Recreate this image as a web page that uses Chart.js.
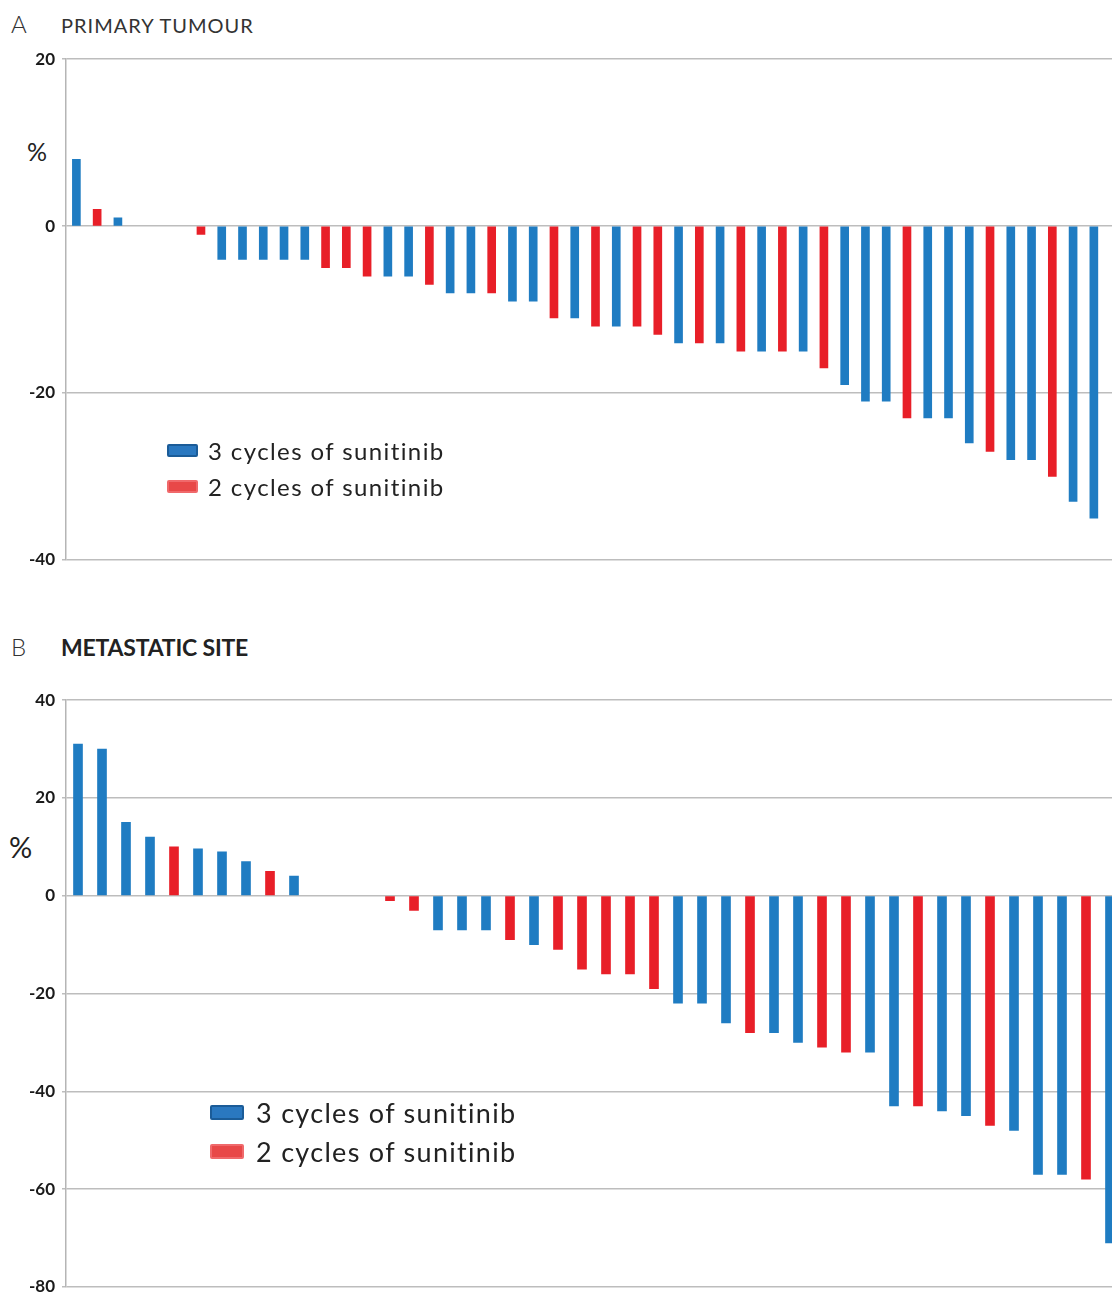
<!DOCTYPE html>
<html>
<head>
<meta charset="utf-8">
<script src="https://cdn.jsdelivr.net/npm/chart.js@4.4.1/dist/chart.umd.min.js"></script>
<style>
  html, body { margin: 0; padding: 0; background: #fff; overflow: hidden; }
  #page { position: relative; width: 1112px; height: 1296px; overflow: hidden; font-family: Lato, "Open Sans", sans-serif; color: #222; }
  canvas { position: absolute; left: 0; }
  .letter { position: absolute; left: 11px; font-size: 24px; font-weight: 300; color: #333; }
  .title { position: absolute; left: 61px; white-space: nowrap; }
  .pct { position: absolute; color: #222; }
  .legend { position: absolute; white-space: nowrap; }
  .legend .row { display: flex; align-items: center; }
  .legend .sw { display: inline-block; border-radius: 2px; box-sizing: border-box; }
</style>
</head>
<body>
<div id="page">
  <div class="letter" style="top:9px">A</div>
  <div class="title" style="top:13px;font-size:20px;color:#333;letter-spacing:1px">PRIMARY TUMOUR</div>
  <div class="pct" style="left:27px;top:136px;font-size:25px">%</div>
  <canvas id="chartA" width="1125" height="535" style="top:42px"></canvas>
  <div class="legend" id="legendA" style="left:167px;top:432px;font-size:24px;letter-spacing:1.4px"></div>

  <div class="letter" style="top:632px">B</div>
  <div class="title" style="top:633px;font-size:23px;font-weight:700;letter-spacing:-0.2px">METASTATIC SITE</div>
  <div class="pct" style="left:9px;top:829px;font-size:29px">%</div>
  <canvas id="chartB" width="1146" height="621" style="top:683px"></canvas>
  <div class="legend" id="legendB" style="left:210px;top:1093px;font-size:27px;letter-spacing:1.3px"></div>
</div>
<script>
// series names and colours
var seriesNames = ['3 cycles of sunitinib', '2 cycles of sunitinib'];
var seriesCycles = [3, 2];
var seriesColors = ['#1f7cc2', '#e81f28'];
var legendBorders = ['#1b5c98', '#f0696b'];

// A: primary tumour, % change per patient (0 = no change, no bar)
var primaryValues = [8, 2, 1, 0, 0, 0, -1, -4, -4, -4, -4, -4, -5, -5, -6, -6, -6, -7, -8, -8,
  -8, -9, -9, -11, -11, -12, -12, -12, -13, -14, -14, -14, -15, -15, -15, -15, -17, -19, -21, -21,
  -23, -23, -23, -26, -27, -28, -28, -30, -33, -35];
var primaryCycles = [3, 2, 3, 0, 0, 0, 2, 3, 3, 3, 3, 3, 2, 2, 2, 3, 3, 2, 3, 3,
  2, 3, 3, 2, 3, 2, 3, 2, 2, 3, 2, 3, 2, 3, 2, 3, 2, 3, 3, 3,
  2, 3, 3, 3, 2, 3, 3, 2, 3, 3];
var primaryTicks = { min: -40, max: 20, step: 20 };

// B: metastatic site, % change per patient
var metaValues = [31, 30, 15, 12, 10, 9.6, 9, 7, 5, 4, 0, 0, 0, -1, -3, -7, -7, -7, -9, -10,
  -11, -15, -16, -16, -19, -22, -22, -26, -28, -28, -30, -31, -32, -32, -43, -43, -44, -45, -47, -48,
  -57, -57, -58, -71];
var metaCycles = [3, 3, 3, 3, 2, 3, 3, 3, 2, 3, 0, 0, 0, 2, 2, 3, 3, 3, 2, 3,
  2, 2, 2, 2, 2, 3, 3, 3, 2, 3, 3, 2, 2, 3, 3, 2, 3, 3, 2, 3,
  3, 3, 2, 3];
var metaTicks = { min: -80, max: 40, step: 20 };

function buildDatasets(values, cycles, thickness) {
  return seriesCycles.map(function (c, k) {
    var d = values.map(function (v, i) { return cycles[i] === c ? v : null; });
    d.push(null); // the figure is cut at the right edge
    return {
      label: seriesNames[k],
      data: d,
      backgroundColor: seriesColors[k],
      borderWidth: 0,
      barThickness: thickness
    };
  });
}

function makeChart(id, values, cycles, ticks, thickness) {
  var labels = values.map(function (v, i) { return String(i + 1); });
  labels.push('');
  return new Chart(document.getElementById(id), {
    type: 'bar',
    data: { labels: labels, datasets: buildDatasets(values, cycles, thickness) },
    options: {
      responsive: false,
      animation: false,
      layout: { padding: { top: 15, bottom: 15, left: 0, right: 0 } },
      plugins: { legend: { display: false }, tooltip: { enabled: false } },
      scales: {
        x: { stacked: true, display: false },
        y: {
          stacked: true,
          min: ticks.min,
          max: ticks.max,
          afterFit: function (s) { s.width = 66; },
          ticks: {
            stepSize: ticks.step,
            padding: 7,
            color: '#1a1a1a',
            font: { family: 'Lato, "Open Sans", sans-serif', size: 17, weight: 'bold' }
          },
          grid: { color: '#bdbdbd', lineWidth: 1.5, tickLength: 4, tickColor: '#bdbdbd' },
          border: { display: true, color: '#b5b5b5', width: 1.5 }
        }
      }
    }
  });
}

function htmlLegend(el, chart, swW, swH, gap, rowH) {
  chart.data.datasets.forEach(function (ds, k) {
    var row = document.createElement('div');
    row.className = 'row';
    row.style.height = rowH + 'px';
    var sw = document.createElement('span');
    sw.className = 'sw';
    sw.style.width = swW + 'px';
    sw.style.height = swH + 'px';
    sw.style.background = k === 0 ? '#2a78c0' : '#e84848';
    sw.style.border = '2px solid ' + legendBorders[k];
    sw.style.marginRight = gap + 'px';
    var tx = document.createElement('span');
    tx.textContent = ds.label;
    row.appendChild(sw);
    row.appendChild(tx);
    el.appendChild(row);
  });
}

var chartA = makeChart('chartA', primaryValues, primaryCycles, primaryTicks, 8);
var chartB = makeChart('chartB', metaValues, metaCycles, metaTicks, 9);
htmlLegend(document.getElementById('legendA'), chartA, 31, 13, 10, 36);
htmlLegend(document.getElementById('legendB'), chartB, 34, 15, 12, 39);
</script>
</body>
</html>
